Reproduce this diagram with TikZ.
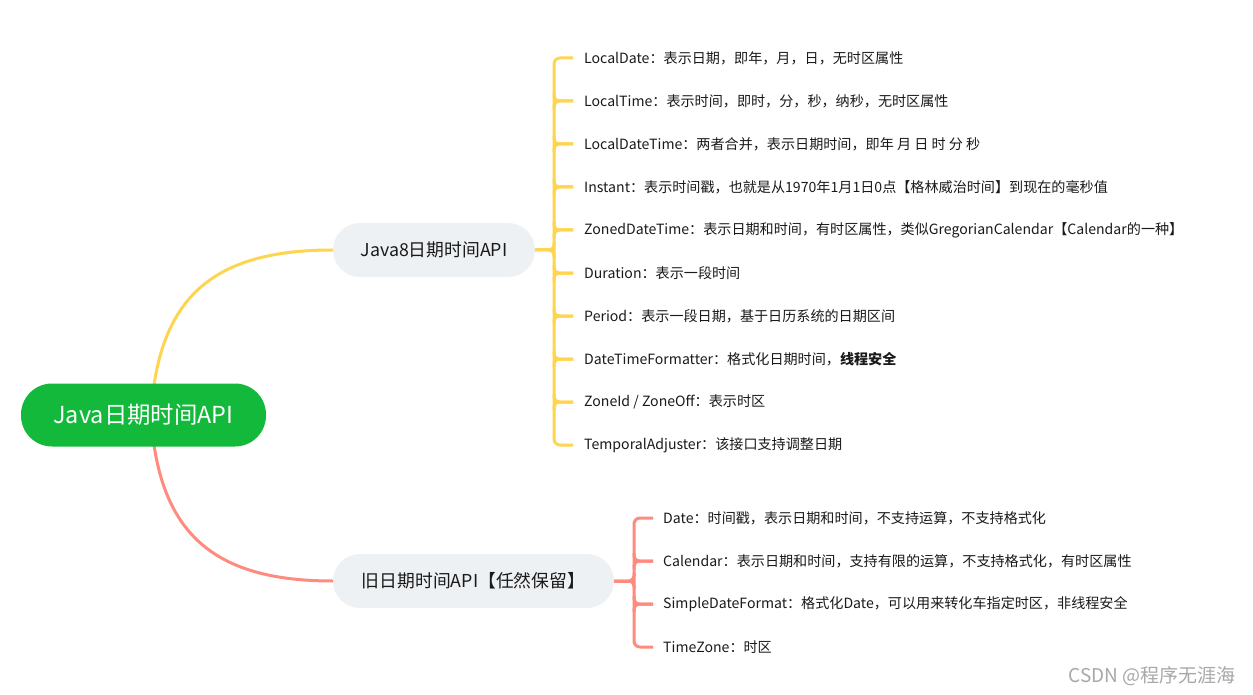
\documentclass[tikz,border=0pt]{standalone}
\usepackage{fontspec}
\setmainfont{Noto Sans CJK SC}
\usetikzlibrary{backgrounds}
\pgfdeclarelayer{bottom}
\pgfsetlayers{bottom,background,main}
\definecolor{rootgreen}{HTML}{13B93B}
\definecolor{branchfill}{HTML}{EEF1F4}
\definecolor{yline}{HTML}{FFD54F}
\definecolor{rline}{HTML}{FF8A7E}
\definecolor{leaftext}{HTML}{1A1A1A}
\definecolor{wmark}{HTML}{A8A8A8}
\tikzset{
  rootbox/.style={fill=rootgreen, text=white, rounded corners=31pt, minimum width=245pt, minimum height=63pt, inner sep=0pt, font=\fontsize{23.4}{27}\selectfont},
  branchbox/.style={fill=branchfill, text=leaftext, rounded corners=27pt, minimum height=54pt, inner sep=0pt, font=\fontsize{17.8}{21}\selectfont},
  leaf/.style={anchor=west, inner sep=0pt, text=leaftext, font=\fontsize{14.1}{17}\selectfont},
  ybr/.style={draw=yline, line width=3pt},
  rbr/.style={draw=rline, line width=3pt},
}
\begin{document}
\begin{tikzpicture}[x=1pt,y=-1pt]
\useasboundingbox (0,0) rectangle (1253,695);
\begin{pgfonlayer}{bottom}
\fill[white] (0,0) rectangle (1253,695);
\end{pgfonlayer}

\node[rootbox] (root) at (143.5,415) {Java日期时间API};
\node[branchbox, minimum width=202pt] (b1) at (434,250) {Java8日期时间API};
\node[branchbox, minimum width=281pt] (b2) at (473.5,581) {旧日期时间API【任然保留】};

% top leaves
\node[leaf] (l1) at (584,58) {LocalDate：表示日期，即年，月，日，无时区属性};
\node[leaf] (l2) at (584,101) {LocalTime：表示时间，即时，分，秒，纳秒，无时区属性};
\node[leaf] (l3) at (584,144) {LocalDateTime：两者合并，表示日期时间，即年 月 日 时 分 秒};
\node[leaf] (l4) at (584,187) {Instant：表示时间戳，也就是从1970年1月1日0点【格林威治时间】到现在的毫秒值};
\node[leaf] (l5) at (584,230) {ZonedDateTime：表示日期和时间，有时区属性，类似GregorianCalendar【Calendar的一种】};
\node[leaf] (l6) at (584,273) {Duration：表示一段时间};
\node[leaf] (l7) at (584,316) {Period：表示一段日期，基于日历系统的日期区间};
\node[leaf] (l8) at (584,359) {DateTimeFormatter：格式化日期时间，\textbf{线程安全}};
\node[leaf] (l9) at (584,402) {ZoneId / ZoneOff：表示时区};
\node[leaf] (l10) at (584,445) {TemporalAdjuster：该接口支持调整日期};

% bottom leaves
\node[leaf] (m1) at (663,518) {Date：时间戳，表示日期和时间，不支持运算，不支持格式化};
\node[leaf] (m2) at (663,561) {Calendar：表示日期和时间，支持有限的运算，不支持格式化，有时区属性};
\node[leaf] (m3) at (663,604) {SimpleDateFormat：格式化Date，可以用来转化车指定时区，非线程安全};
\node[leaf] (m4) at (663,647) {TimeZone：时区};

% watermark
\node[text=wmark, inner sep=0pt, font=\fontsize{19}{22}\selectfont] (wm) at (1152,676) {CSDN @程序无涯海};

\coordinate (j1) at (554,250);
\coordinate (j2) at (634,581);
\coordinate (rs) at (151,415);

\begin{pgfonlayer}{background}
% root to branch curves
\draw[ybr] (rs) .. controls (158,295) and (215,250) .. (b1.west);
\draw[rbr] (rs) .. controls (158,535) and (215,581) .. (b2.west);

% top bracket
\draw[ybr] (b1.east) -- (j1);
\draw[ybr, rounded corners=6pt] ([xshift=-11pt]l1.west) -| (j1) |- ([xshift=-11pt]l10.west);
\draw[ybr, rounded corners=5pt] (j1) ++(0,-8) |- (b1.east);
\draw[ybr, rounded corners=5pt] (j1) ++(0,8) |- (b1.east);
\foreach \n in {l2,l3,l4,l5,l6,l7,l8,l9}{
  \draw[ybr, rounded corners=5pt] ([xshift=-11pt]\n.west) -| ++(-19,-8);
  \draw[ybr, rounded corners=5pt] ([xshift=-11pt]\n.west) -| ++(-19,8);
}

% bottom bracket
\draw[rbr] (b2.east) -- (j2);
\draw[rbr, rounded corners=6pt] ([xshift=-10pt]m1.west) -| (j2) |- ([xshift=-10pt]m4.west);
\draw[rbr, rounded corners=5pt] (j2) ++(0,-8) |- (b2.east);
\draw[rbr, rounded corners=5pt] (j2) ++(0,8) |- (b2.east);
\foreach \n in {m2,m3}{
  \draw[rbr, rounded corners=5pt] ([xshift=-10pt]\n.west) -| ++(-19,-8);
  \draw[rbr, rounded corners=5pt] ([xshift=-10pt]\n.west) -| ++(-19,8);
}
\end{pgfonlayer}
\end{tikzpicture}
\end{document}
